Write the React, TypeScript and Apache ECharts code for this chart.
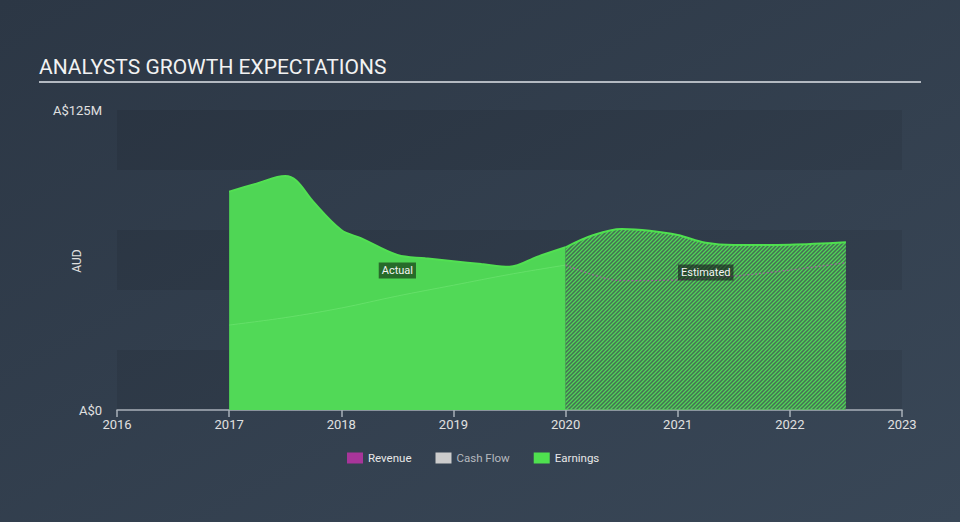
import React, { useEffect, useRef } from "react";
import * as echarts from "echarts";

const xTicks = [2016, 2017, 2018, 2019, 2020, 2021, 2022, 2023];

const earningsActualYears = [2017, 2017.25, 2017.5, 2017.6, 2017.75, 2018, 2018.18, 2018.5, 2018.75, 2019, 2019.25, 2019.5, 2019.75, 2020];
const earningsActualValues = [91, 94.4, 97.5, 95.5, 86.8, 75, 71.5, 64.6, 63.2, 62, 60.8, 59.7, 63.9, 67.8];

const earningsEstYears = [2020, 2020.25, 2020.5, 2020.75, 2021, 2021.25, 2021.5, 2022, 2022.5];
const earningsEstValues = [67.8, 72.9, 75.4, 74.7, 72.9, 69.7, 68.75, 68.9, 69.9];

const revenueActualYears = [2017, 2017.5, 2018, 2018.5, 2019, 2019.5, 2020];
const revenueActualValues = [35.4, 38.5, 42.5, 47.5, 52, 56.5, 60.4];

const revenueEstYears = [2020, 2020.25, 2020.5, 2021, 2021.5, 2022, 2022.5];
const revenueEstValues = [60.4, 56.25, 53.9, 54.2, 55.8, 58.3, 61.4];

const yLabels: Record<number, string> = { 0: "A$0", 125: "A$125M" };

const legendNames = ["Revenue", "Cash Flow", "Earnings"];
const legendColors = ["#a8359a", "#cccccc", "#4fe04f"];

const pair = (xs: number[], ys: number[]) => xs.map((x, i) => [x, ys[i]]);

function makeHatch() {
  const c = document.createElement("canvas");
  const s = 4;
  c.width = s;
  c.height = s;
  const ctx = c.getContext("2d")!;
  ctx.fillStyle = "rgba(90,150,95,0.55)";
  ctx.fillRect(0, 0, s, s);
  ctx.strokeStyle = "#4fd655";
  ctx.lineWidth = 1.3;
  ctx.beginPath();
  ctx.moveTo(0, s);
  ctx.lineTo(s, 0);
  ctx.moveTo(-1, 1);
  ctx.lineTo(1, -1);
  ctx.moveTo(s - 1, s + 1);
  ctx.lineTo(s + 1, s - 1);
  ctx.stroke();
  return c;
}

export default function App() {
  const ref = useRef<HTMLDivElement>(null);
  useEffect(() => {
    const chart = echarts.init(ref.current!, null, { renderer: "svg" });
    const hatch = makeHatch();
    const font = "Roboto";
    chart.setOption({
      animation: false,
      backgroundColor: {
        type: "linear",
        x: 0,
        y: 0,
        x2: 1,
        y2: 1,
        colorStops: [
          { offset: 0, color: "#2c3745" },
          { offset: 1, color: "#394757" },
        ],
      },
      textStyle: { fontFamily: font },
      graphic: [
        {
          type: "text",
          left: 39,
          top: 56,
          style: {
            text: "ANALYSTS GROWTH EXPECTATIONS",
            fontSize: 21,
            fontFamily: font,
            fill: "#f2f2f2",
          },
        },
        {
          type: "line",
          shape: { x1: 39, y1: 82, x2: 921, y2: 82 },
          style: { stroke: "#b3b9c1", lineWidth: 2 },
        },
        {
          type: "text",
          x: 77,
          y: 261,
          rotation: Math.PI / 2,
          style: {
            text: "AUD",
            fontSize: 12,
            fontFamily: font,
            fill: "#e0e0e0",
            align: "center",
            verticalAlign: "middle",
          },
        },
      ],
      grid: { left: 117, right: 58, top: 110, bottom: 112 },
      legend: {
        left: 342,
        top: 447,
        itemWidth: 16,
        itemHeight: 11,
        itemGap: 24,
        icon: "rect",
        textStyle: { color: "#e8e8e8", fontSize: 11.5, fontFamily: font },
        data: legendNames.map((n, i) => ({
          name: n,
          itemStyle: { color: legendColors[i] },
          textStyle: n === "Cash Flow" ? { color: "#b5b9bf" } : undefined,
        })),
        selectedMode: false,
      },
      xAxis: {
        type: "value",
        min: xTicks[0],
        max: xTicks[xTicks.length - 1],
        interval: 1,
        axisLine: { show: true, lineStyle: { color: "#a9b0b9", width: 1.5 } },
        axisTick: { show: true, length: 7, lineStyle: { color: "#a9b0b9", width: 1.5 } },
        axisLabel: { color: "#e0e0e0", fontSize: 13, margin: 8, formatter: (v: number) => String(v) },
        splitLine: { show: false },
      },
      yAxis: {
        type: "value",
        min: 0,
        max: 125,
        interval: 25,
        axisLine: { show: false },
        axisTick: { show: false },
        axisLabel: {
          color: "#e0e0e0",
          fontSize: 13,
          margin: 15,
          formatter: (v: number) => yLabels[v] ?? "",
        },
        splitLine: { show: false },
        splitArea: {
          show: true,
          areaStyle: { color: ["rgba(0,0,0,0.07)", "rgba(255,255,255,0.0)"] },
        },
      },
      series: [
        {
          name: "Cash Flow",
          type: "line",
          data: [],
          itemStyle: { color: "#cccccc" },
        },
        {
          name: "Earnings",
          type: "line",
          smooth: 0.35,
          showSymbol: false,
          data: pair(earningsActualYears, earningsActualValues),
          itemStyle: { color: "#4fe04f" },
          lineStyle: { color: "#52e052", width: 2 },
          areaStyle: { color: "#4fd655", opacity: 1 },
          markPoint: {
            symbol: "rect",
            symbolSize: 0,
            data: [{ coord: [2018.5, 58.1], value: "Actual" }],
            label: {
              show: true,
              position: "inside",
              formatter: "Actual",
              color: "#f4f4f4",
              fontSize: 11,
              fontFamily: font,
              backgroundColor: "rgba(0,0,0,0.5)",
              padding: [3, 3, 2, 3],
            },
          },
        },
        {
          name: "Revenue",
          type: "line",
          smooth: 0.35,
          showSymbol: false,
          data: pair(revenueActualYears, revenueActualValues),
          itemStyle: { color: "#a8359a" },
          lineStyle: { color: "rgba(140,240,140,0.35)", width: 1 },
          areaStyle: { color: "rgba(90,230,95,0.25)" },
        },
        {
          name: "Earnings Estimate",
          type: "line",
          smooth: 0.35,
          showSymbol: false,
          data: pair(earningsEstYears, earningsEstValues),
          itemStyle: { color: "#4fe04f" },
          lineStyle: { color: "#4fe04f", width: 2 },
          areaStyle: { color: { image: hatch, repeat: "repeat" }, opacity: 1 },
          markPoint: {
            symbol: "rect",
            symbolSize: 0,
            data: [{ coord: [2021.25, 57.3], value: "Estimated" }],
            label: {
              show: true,
              position: "inside",
              formatter: "Estimated",
              color: "#f4f4f4",
              fontSize: 11,
              fontFamily: font,
              backgroundColor: "rgba(20,25,25,0.6)",
              padding: [3, 3, 2, 3],
            },
          },
        },
        {
          name: "Revenue Estimate",
          type: "line",
          smooth: 0.35,
          showSymbol: false,
          data: pair(revenueEstYears, revenueEstValues),
          itemStyle: { color: "#a8359a" },
          lineStyle: { color: "rgba(190,80,180,0.75)", width: 1.2, type: [2, 2] },
          z: 3,
        },
      ],
    });
    return () => chart.dispose();
  }, []);
  return (
    <div
      ref={ref}
      style={{ width: 960, height: 522, position: "fixed", left: 0, top: 0 }}
    />
  );
}
